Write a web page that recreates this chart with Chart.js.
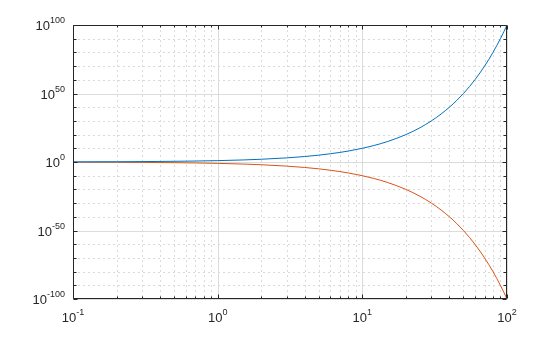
<!DOCTYPE html>
<html lang="en">
<head>
    <meta charset="UTF-8">
    <title>Log-log plot</title>
    <script src="https://cdn.jsdelivr.net/npm/chart.js"></script>
    <style>
        html, body {
            margin: 0;
            padding: 0;
            background: white;
        }

        .container {
            position: relative;
            width: 560px;
            height: 337px;
        }
    </style>
</head>
<body>

    <div class="container">
        <canvas id="grafico"></canvas>
    </div>

    <script>
        // x values
        const xValues = [0.1, 0.2, 0.3, 0.5, 0.7, 1, 1.5, 2, 3, 4, 5, 6, 7, 8, 10, 12, 15, 20, 25,
            30, 35, 40, 45, 50, 55, 60, 65, 70, 75, 80, 85, 90, 95, 100];
        // upper (blue) curve
        const upperValues = [1.26, 1.58, 2, 3.2, 5, 10, 32, 100, 1e3, 1e4, 1e5, 1e6, 1e7, 1e8, 1e10, 1e12, 1e15, 1e20, 1e25,
            1e30, 1e35, 1e40, 1e45, 1e50, 1e55, 1e60, 1e65, 1e70, 1e75, 1e80, 1e85, 1e90, 1e95, 1e100];
        // lower (orange) curve
        const lowerValues = [0.79, 0.63, 0.5, 0.32, 0.2, 0.1, 0.032, 0.01, 1e-3, 1e-4, 1e-5, 1e-6, 1e-7, 1e-8, 1e-10, 1e-12, 1e-15, 1e-20, 1e-25,
            1e-30, 1e-35, 1e-40, 1e-45, 1e-50, 1e-55, 1e-60, 1e-65, 1e-70, 1e-75, 1e-80, 1e-85, 1e-90, 1e-95, 1e-100];

        // tick labels (exponents of 10)
        const xTickExps = [-1, 0, 1, 2];
        const yTickExps = [-100, -50, 0, 50, 100];
        const yMinorStep = 10;

        const pontos = (ys) => xValues.map((x, i) => ({ x: x, y: ys[i] }));

        const corTexto = "#262626";

        function desenharPotencia(ctx, exp, px, py, alinhar) {
            // "10" grande + expoente pequeno
            ctx.font = "13px 'Liberation Sans', Arial, sans-serif";
            const wBase = ctx.measureText("10").width;
            ctx.font = "9px 'Liberation Sans', Arial, sans-serif";
            const wExp = ctx.measureText(String(exp)).width;
            const total = wBase + wExp;
            let x0 = px;
            if (alinhar === "right") x0 = px - total;
            if (alinhar === "center") x0 = px - total / 2;
            ctx.fillStyle = corTexto;
            ctx.textAlign = "left";
            ctx.textBaseline = "alphabetic";
            ctx.font = "13px 'Liberation Sans', Arial, sans-serif";
            ctx.fillText("10", x0, py);
            ctx.font = "9px 'Liberation Sans', Arial, sans-serif";
            ctx.fillText(String(exp), x0 + wBase, py - 7);
        }

        const gradePlugin = {
            id: "gradeMatlab",
            beforeDatasetsDraw(chart) {
                const { ctx, chartArea: a, scales: { x, y } } = chart;
                ctx.save();
                ctx.lineWidth = 1;

                // grade menor pontilhada
                ctx.strokeStyle = "#dadada";
                ctx.setLineDash([2, 3]);
                ctx.beginPath();
                for (let d = xTickExps[0]; d < xTickExps[xTickExps.length - 1]; d++) {
                    for (let m = 2; m <= 9; m++) {
                        const px = Math.round(x.getPixelForValue(m * Math.pow(10, d))) + 0.5;
                        ctx.moveTo(px, a.top);
                        ctx.lineTo(px, a.bottom);
                    }
                }
                for (let e = yTickExps[0]; e <= yTickExps[yTickExps.length - 1]; e += yMinorStep) {
                    if (yTickExps.includes(e)) continue;
                    const py = Math.round(y.getPixelForValue(Math.pow(10, e))) + 0.5;
                    ctx.moveTo(a.left, py);
                    ctx.lineTo(a.right, py);
                }
                ctx.stroke();

                // grade principal
                ctx.setLineDash([]);
                ctx.strokeStyle = "#dcdcdc";
                ctx.beginPath();
                xTickExps.forEach(e => {
                    const px = Math.round(x.getPixelForValue(Math.pow(10, e))) + 0.5;
                    ctx.moveTo(px, a.top);
                    ctx.lineTo(px, a.bottom);
                });
                yTickExps.forEach(e => {
                    const py = Math.round(y.getPixelForValue(Math.pow(10, e))) + 0.5;
                    ctx.moveTo(a.left, py);
                    ctx.lineTo(a.right, py);
                });
                ctx.stroke();
                ctx.restore();
            },
            afterDatasetsDraw(chart) {
                const { ctx, chartArea: a, scales: { x, y } } = chart;
                ctx.save();
                ctx.strokeStyle = corTexto;
                ctx.lineWidth = 1;
                const L = Math.round(a.left) + 0.5, R = Math.round(a.right) - 0.5;
                const T = Math.round(a.top) + 0.5, B = Math.round(a.bottom) - 0.5;

                // caixa
                ctx.beginPath();
                ctx.rect(L, T, R - L, B - T);
                ctx.stroke();

                // marcas
                ctx.beginPath();
                for (let d = xTickExps[0]; d <= xTickExps[xTickExps.length - 1]; d++) {
                    for (let m = 1; m <= 9; m++) {
                        if (d === xTickExps[xTickExps.length - 1] && m > 1) break;
                        const px = Math.round(x.getPixelForValue(m * Math.pow(10, d))) + 0.5;
                        const len = m === 1 ? 4 : 2;
                        ctx.moveTo(px, B); ctx.lineTo(px, B - len);
                        ctx.moveTo(px, T); ctx.lineTo(px, T + len);
                    }
                }
                for (let e = yTickExps[0]; e <= yTickExps[yTickExps.length - 1]; e += yMinorStep) {
                    const py = Math.round(y.getPixelForValue(Math.pow(10, e))) + 0.5;
                    const len = yTickExps.includes(e) ? 4 : 3;
                    ctx.moveTo(L, py); ctx.lineTo(L + len, py);
                    ctx.moveTo(R, py); ctx.lineTo(R - len, py);
                }
                ctx.stroke();

                // rótulos
                xTickExps.forEach(e => {
                    const px = x.getPixelForValue(Math.pow(10, e));
                    desenharPotencia(ctx, e, px, a.bottom + 23, "center");
                });
                yTickExps.forEach(e => {
                    const py = y.getPixelForValue(Math.pow(10, e));
                    desenharPotencia(ctx, e, a.left - 8, py + 5, "right");
                });
                ctx.restore();
            }
        };

        const ctx = document.getElementById("grafico").getContext("2d");
        new Chart(ctx, {
            type: "line",
            data: {
                datasets: [{
                    data: pontos(upperValues),
                    borderColor: "#0072BD",
                    borderWidth: 1,
                    pointRadius: 0,
                    cubicInterpolationMode: "monotone",
                    fill: false
                }, {
                    data: pontos(lowerValues),
                    borderColor: "#D95319",
                    borderWidth: 1,
                    pointRadius: 0,
                    cubicInterpolationMode: "monotone",
                    fill: false
                }]
            },
            options: {
                responsive: true,
                maintainAspectRatio: false,
                animation: false,
                layout: {
                    padding: { left: 73, top: 25, right: 53, bottom: 38 }
                },
                plugins: {
                    legend: { display: false },
                    tooltip: { enabled: false }
                },
                scales: {
                    x: {
                        type: "logarithmic",
                        display: false,
                        min: Math.pow(10, xTickExps[0]),
                        max: Math.pow(10, xTickExps[xTickExps.length - 1]),
                        afterBuildTicks: (s) => { s.ticks = xTickExps.map(e => ({ value: Math.pow(10, e) })); }
                    },
                    y: {
                        type: "logarithmic",
                        display: false,
                        min: Math.pow(10, yTickExps[0]),
                        max: Math.pow(10, yTickExps[yTickExps.length - 1]),
                        afterBuildTicks: (s) => { s.ticks = yTickExps.map(e => ({ value: Math.pow(10, e) })); }
                    }
                }
            },
            plugins: [gradePlugin]
        });
    </script>

</body>
</html>
